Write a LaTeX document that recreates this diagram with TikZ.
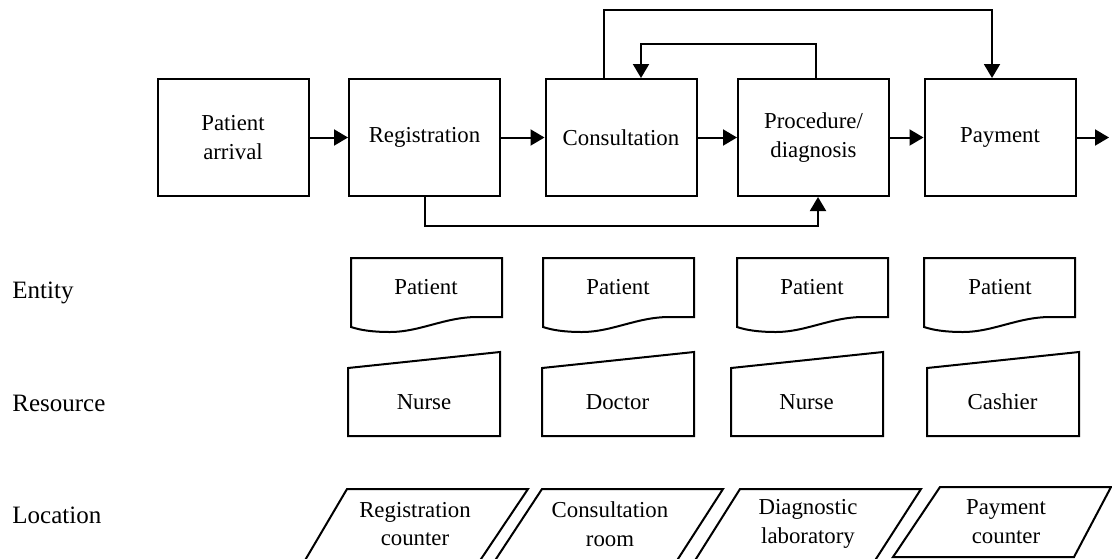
\documentclass[tikz,border=0pt]{standalone}
\usepackage{fontspec}
\setmainfont{Liberation Serif}
\usetikzlibrary{arrows.meta,calc}

\tikzset{
  stage/.style={draw, line width=1pt, minimum width=75.5pt, minimum height=58.5pt, inner sep=0pt, align=center, font=\fontsize{11.4}{14.4}\selectfont},
  flow/.style={line width=1pt, -{Triangle[length=7pt,width=8pt]}},
  shp/.style={draw, line width=1pt, line join=miter},
  lbl/.style={align=center, inner sep=0pt, font=\fontsize{11.4}{14.4}\selectfont},
  rowname/.style={anchor=west, inner sep=0pt, font=\fontsize{12.5}{15}\selectfont}
}

\begin{document}
\begin{tikzpicture}[x=0.5pt,y=-0.5pt]
\useasboundingbox (0,0) rectangle (1112,558);

% process chain
\node[stage] (arrival) at (233,137.5) {Patient\\arrival};
\node[stage] (reg) at (424.5,137.5) {Registration};
\node[stage] (cons) at (621,137.5) {Consultation};
\node[stage] (proc) at (813.5,137.5) {Procedure/\\diagnosis};
\node[stage] (pay) at (1000,137.5) {Payment};
\coordinate (out) at (1109,137.5);

\draw[flow] (arrival) -- (reg);
\draw[flow] (reg) -- (cons);
\draw[flow] (cons) -- (proc);
\draw[flow] (proc) -- (pay);
\draw[flow] (pay) -- (out);

% loops back and over
\draw[flow] ([xshift=-8.5pt]cons.north) -- ++(0,-68) -| ([xshift=-4pt]pay.north);
\draw[flow] ([xshift=1.25pt]proc.north) -- ++(0,-34) -| ([xshift=10pt]cons.north);
\draw[flow] (reg.south) -- ++(0,29) -| ([xshift=2.25pt]proc.south);

% row names
\node[rowname] (entity) at (12,293) {Entity};
\node[rowname] (resource) at (12,403) {Resource};
\node[rowname] (location) at (12,515) {Location};

% entity
\draw[shp] (351,258)--(502,258)--(502,317)--(477,317) .. controls (445,317) and (420,332) .. (390,332) .. controls (372,332) and (360,330) .. (351,327)--cycle;
\draw[shp,xshift=96pt] (351,258)--(502,258)--(502,317)--(477,317) .. controls (445,317) and (420,332) .. (390,332) .. controls (372,332) and (360,330) .. (351,327)--cycle;
\draw[shp,xshift=193pt] (351,258)--(502,258)--(502,317)--(477,317) .. controls (445,317) and (420,332) .. (390,332) .. controls (372,332) and (360,330) .. (351,327)--cycle;
\draw[shp,xshift=286.5pt] (351,258)--(502,258)--(502,317)--(477,317) .. controls (445,317) and (420,332) .. (390,332) .. controls (372,332) and (360,330) .. (351,327)--cycle;
\node[lbl] (ent1) at (426,287) {Patient};
\node[lbl] (ent2) at (618,287) {Patient};
\node[lbl] (ent3) at (812,287) {Patient};
\node[lbl] (ent4) at (1000,287) {Patient};

% resource
\draw[shp] (348,368)--(500,352)--(500,436)--(348,436)--cycle;
\draw[shp,xshift=97pt] (348,368)--(500,352)--(500,436)--(348,436)--cycle;
\draw[shp,xshift=191.5pt] (348,368)--(500,352)--(500,436)--(348,436)--cycle;
\draw[shp,xshift=289.5pt] (348,368)--(500,352)--(500,436)--(348,436)--cycle;
\node[lbl] (res1) at (424,402) {Nurse};
\node[lbl] (res2) at (617.5,402) {Doctor};
\node[lbl] (res3) at (806.5,402) {Nurse};
\node[lbl] (res4) at (1002.5,402) {Cashier};

% location
\draw[shp] (347,489)--(528,489)--(479,562)--(304,562)--cycle;
\draw[shp] (542,489)--(723,489)--(676,562)--(494,562)--cycle;
\draw[shp] (740,489)--(921,489)--(874,562)--(694,562)--cycle;
\draw[shp] (940,487)--(1111,487)--(1074,557)--(893,557)--cycle;
\node[lbl] (loc1) at (415,524) {Registration\\counter};
\node[lbl] (loc2) at (610,524) {Consultation\\room};
\node[lbl] (loc3) at (808,524) {Diagnostic\\laboratory};
\node[lbl] (loc4) at (1006,522) {Payment\\counter};
\end{tikzpicture}
\end{document}
